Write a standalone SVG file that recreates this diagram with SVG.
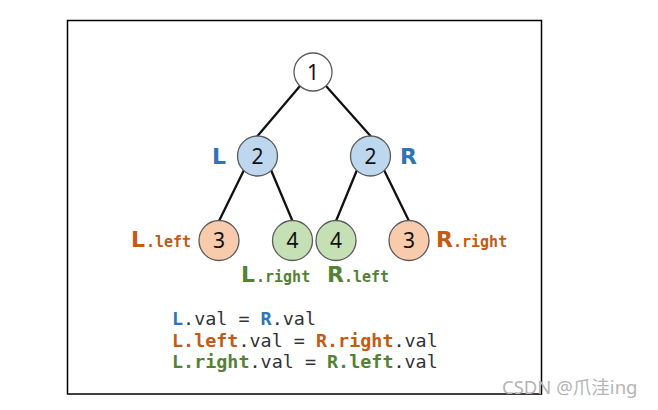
<svg xmlns="http://www.w3.org/2000/svg" width="658" height="410" viewBox="0 0 658 410">
<style>
.frame{fill:none;stroke:#000;stroke-width:1.5}
.edge{stroke:#111;stroke-width:2.3;fill:none;stroke-linecap:round}
.n{stroke:#5a5a5a;stroke-width:1.3}
.root{fill:#fff}
.blue{fill:#bdd7ee}
.org{fill:#f8cbad}
.grn{fill:#c5e0b4}
.d{font-family:"Noto Sans","DejaVu Sans",sans-serif;font-size:21px;fill:#111;text-anchor:middle}
.big{font-family:"DejaVu Sans",sans-serif;font-weight:bold;font-size:22px}
.sm{font-family:"DejaVu Sans Mono",monospace;font-weight:bold;font-size:15px}
.cb{fill:#2e75b6}
.co{fill:#c55a11}
.cg{fill:#548235}
.code{font-family:"DejaVu Sans Mono",monospace;font-size:18.4px;fill:#333}
.code .b{font-weight:bold}
.wm{font-family:"Noto Sans","Noto Sans CJK SC",sans-serif;font-size:18.5px;fill:#b4b4b4}
</style>
<rect class="frame" x="67.5" y="20.5" width="474" height="373.5"/>
<g id="connectors">
<line class="edge" x1="300" y1="86" x2="257.5" y2="136"/>
<line class="edge" x1="326" y1="86" x2="370.5" y2="136"/>
<line class="edge" x1="244" y1="170" x2="219" y2="221"/>
<line class="edge" x1="271" y1="170" x2="292.5" y2="221"/>
<line class="edge" x1="357" y1="170" x2="336" y2="221"/>
<line class="edge" x1="384" y1="170" x2="409" y2="221"/>
</g>
<g id="n1"><circle class="n root" cx="313" cy="72" r="19"/><text class="d" x="313" y="79.5">1</text></g>
<g id="nL"><circle class="n blue" cx="257.5" cy="156" r="20"/><text class="d" x="257.5" y="163.5">2</text>
<text class="big cb" x="212" y="164">L</text></g>
<g id="nR"><circle class="n blue" cx="370.5" cy="156" r="20"/><text class="d" x="370.5" y="163.5">2</text>
<text class="big cb" x="400" y="164">R</text></g>
<g id="nLL"><circle class="n org" cx="219" cy="240.5" r="20"/><text class="d" x="219" y="248">3</text>
<text x="131" y="247"><tspan class="big co">L</tspan><tspan class="sm co" x="146">.left</tspan></text></g>
<g id="nLR"><circle class="n grn" cx="292.5" cy="240.5" r="20"/><text class="d" x="292.5" y="248">4</text>
<text x="241" y="282"><tspan class="big cg">L</tspan><tspan class="sm cg" x="256">.right</tspan></text></g>
<g id="nRL"><circle class="n grn" cx="336" cy="240.5" r="20"/><text class="d" x="336" y="248">4</text>
<text x="327" y="282"><tspan class="big cg">R</tspan><tspan class="sm cg" x="344">.left</tspan></text></g>
<g id="nRR"><circle class="n org" cx="409" cy="240.5" r="20"/><text class="d" x="409" y="248">3</text>
<text x="436" y="247"><tspan class="big co">R</tspan><tspan class="sm co" x="453">.right</tspan></text></g>
<g id="code">
<text class="code" x="172" y="325"><tspan class="b cb">L</tspan>.val = <tspan class="b cb">R</tspan>.val</text>
<text class="code" x="172" y="346.5"><tspan class="b co">L.left</tspan>.val = <tspan class="b co">R.right</tspan>.val</text>
<text class="code" x="172" y="368"><tspan class="b cg">L.right</tspan>.val = <tspan class="b cg">R.left</tspan>.val</text>
</g>
<text class="wm" x="502" y="394">CSDN @爪洼ing</text>
</svg>
